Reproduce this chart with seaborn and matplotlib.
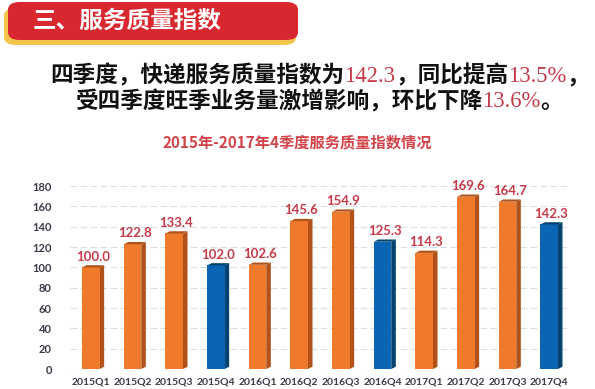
import numpy as np
import pandas as pd
import matplotlib
matplotlib.use("Agg")
import matplotlib.pyplot as plt
from matplotlib.patches import FancyBboxPatch, Polygon
import seaborn as sns

# 数据
quarters = ["2015Q1", "2015Q2", "2015Q3", "2015Q4", "2016Q1", "2016Q2",
            "2016Q3", "2016Q4", "2017Q1", "2017Q2", "2017Q3", "2017Q4"]
index_values = [100.0, 122.8, 133.4, 102.0, 102.6, 145.6,
                154.9, 125.3, 114.3, 169.6, 164.7, 142.3]
is_q4 = ["Q4" if q.endswith("Q4") else "other" for q in quarters]
y_ticks = [0, 20, 40, 60, 80, 100, 120, 140, 160, 180]

banner_title = "三、服务质量指数"
line1 = [("四季度，快递服务质量指数为", "k"), ("142.3", "r"), ("，同比提高", "k"),
         ("13.5%", "r"), ("，", "k")]
line2 = [("受四季度旺季业务量激增影响，环比下降", "k"), ("13.6%", "r"), ("。", "k")]
chart_title = "2015年-2017年4季度服务质量指数情况"

ORANGE = "#f07a2c"
ORANGE_SIDE = "#b0521a"
BLUE = "#0a66b4"
BLUE_SIDE = "#06426f"
RED_TXT = "#c63a48"

df = pd.DataFrame({"quarter": quarters, "value": index_values, "kind": is_q4})

sns.set_style("white")
plt.rcParams["font.family"] = ["Noto Sans CJK SC", "DejaVu Sans"]

W, H = 595, 389
fig = plt.figure(figsize=(W / 100, H / 100), dpi=100)
fig.patch.set_facecolor("white")

def fx(px):
    return px / W

def fy(py):
    return 1 - py / H

# 顶部横幅
gold = FancyBboxPatch((fx(4), fy(45)), fx(292), fy(8) - fy(45),
                      boxstyle="round,pad=0,rounding_size=0.02",
                      transform=fig.transFigure, facecolor="#f3c54a",
                      edgecolor="none", zorder=0)
red = FancyBboxPatch((fx(8), fy(40)), fx(290), fy(2) - fy(40),
                     boxstyle="round,pad=0,rounding_size=0.02",
                     transform=fig.transFigure, facecolor="#d8272f",
                     edgecolor="none", zorder=1)
fig.patches.extend([gold, red])
fig.text(fx(33), fy(21), banner_title, color="white", fontsize=17,
         fontweight="bold", va="center", ha="left", zorder=2)

# 多色文字
renderer = fig.canvas.get_renderer()

def rich_line(x_px, y_px, pieces, size):
    x = x_px
    for txt, c in pieces:
        if c == "k":
            t = fig.text(fx(x), fy(y_px), txt, color="#111111", fontsize=size,
                         fontweight="bold", va="center", ha="left")
        else:
            t = fig.text(fx(x), fy(y_px), txt, color=RED_TXT, fontsize=size,
                         family=["Liberation Serif"], va="center", ha="left")
        x += t.get_window_extent(renderer).width

rich_line(50, 76, line1, 16.3)
rich_line(75, 102, line2, 16.3)

fig.text(0.5, fy(142), chart_title, color="#d2444a", fontsize=11,
         fontweight="bold", ha="center", va="center")

# 柱状图
ax = fig.add_axes([fx(70), fy(369), fx(500), fy(176) - fy(369)])
sns.barplot(data=df, x="quarter", y="value", hue="kind",
            palette={"other": ORANGE, "Q4": BLUE}, dodge=False, saturation=1,
            width=0.42, legend=False, ax=ax, zorder=3, linewidth=0)

dx, dy = 0.11, 2.2
for patch in ax.patches:
    x0, w, h = patch.get_x(), patch.get_width(), patch.get_height()
    side = BLUE_SIDE if patch.get_facecolor()[2] > 0.5 else ORANGE_SIDE
    ax.add_patch(Polygon([(x0 + w, 0), (x0 + w + dx, dy), (x0 + w + dx, h + dy), (x0 + w, h)],
                         closed=True, facecolor=side, edgecolor="none", zorder=2.9))
    ax.add_patch(Polygon([(x0, h), (x0 + w, h), (x0 + w + dx, h + dy), (x0 + dx, h + dy)],
                         closed=True, facecolor=side, edgecolor="none", zorder=3.1))
    ax.text(x0 + w / 2 + dx / 2, h + dy + 2.5, f"{h:.1f}", color=RED_TXT,
            fontsize=9.5, fontweight="bold", family=["Lato"],
            ha="center", va="bottom", zorder=4)

ax.set_ylim(0, 190)
ax.set_xlim(-0.5, len(quarters) - 0.5)
ax.set_yticks(y_ticks)
ax.set_xlabel("")
ax.set_ylabel("")
ax.grid(axis="y", color="#d8dde8", linewidth=0.8, linestyle=(0, (6, 3)), zorder=0)
ax.set_axisbelow(True)
for s in ax.spines.values():
    s.set_visible(False)
ax.tick_params(axis="y", length=0, pad=13, labelsize=8, labelcolor="#3a3a48")
ax.tick_params(axis="x", length=0, pad=6, labelsize=7.5, labelcolor="#3a3a48")
for lab in ax.get_xticklabels() + ax.get_yticklabels():
    lab.set_fontweight("bold")
    lab.set_family(["Lato"])

fig.savefig("out.png", dpi=100)
